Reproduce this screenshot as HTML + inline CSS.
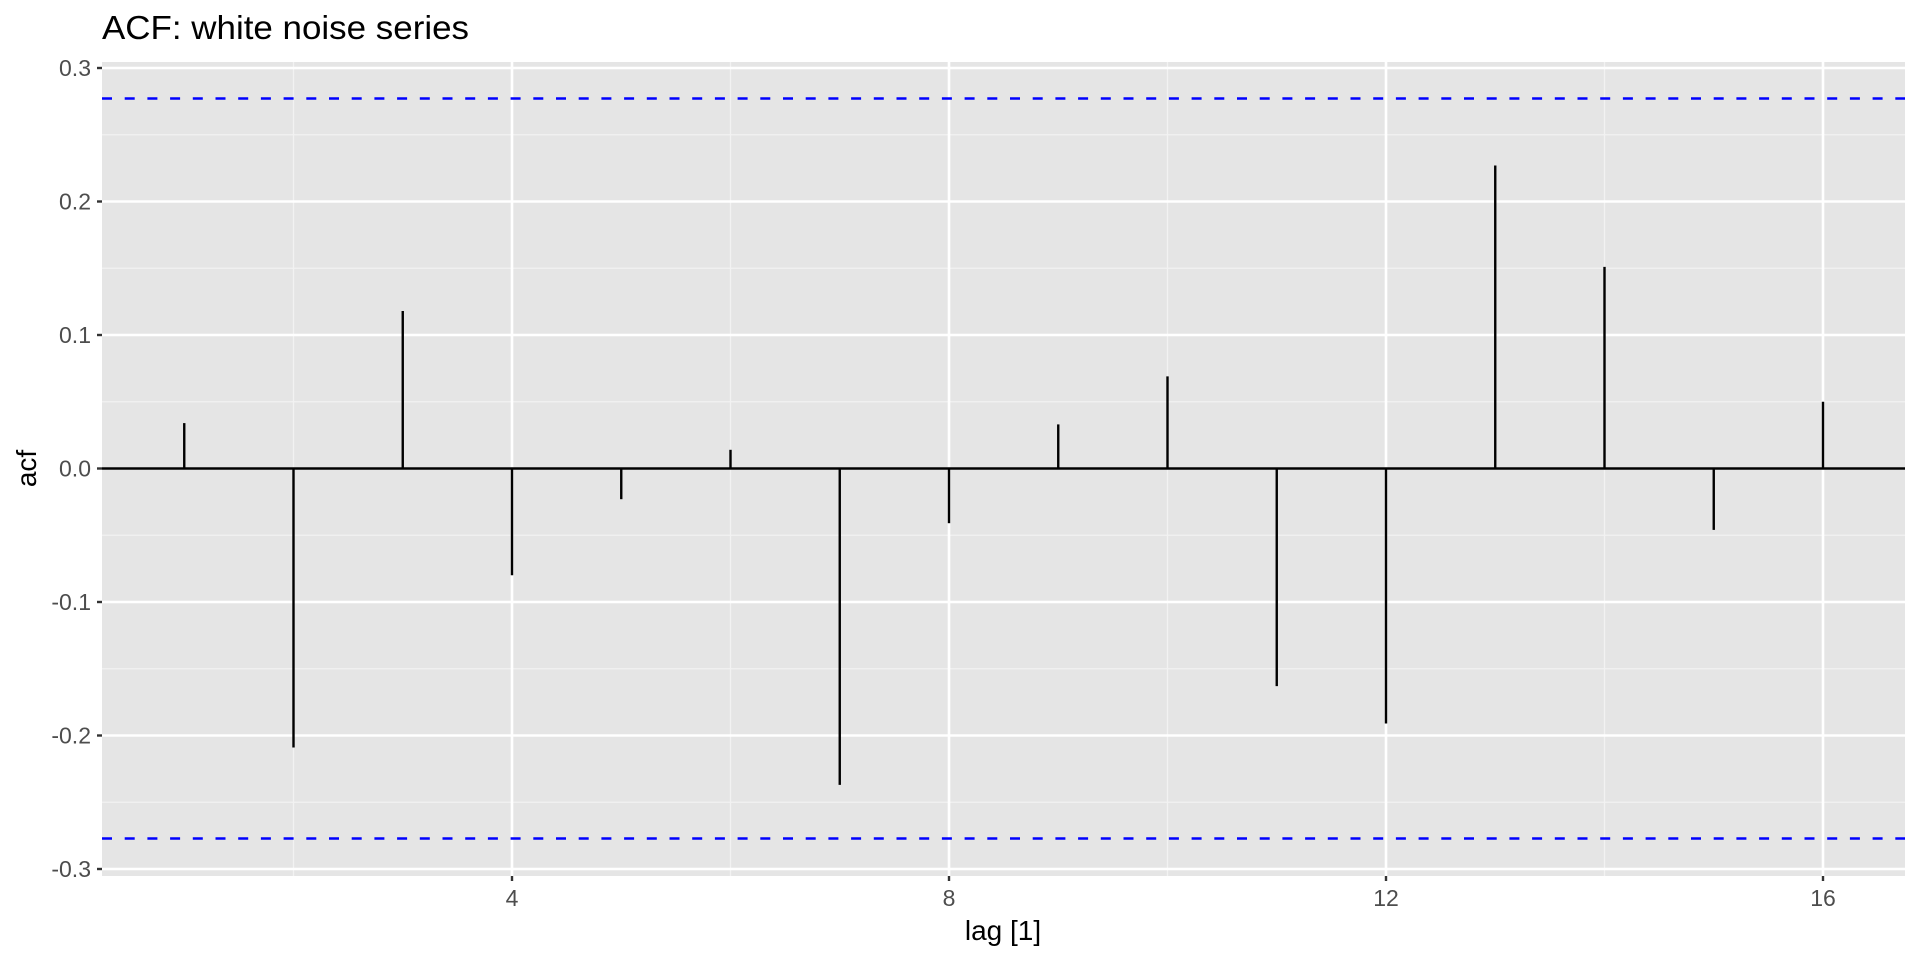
<!DOCTYPE html>
<html><head><meta charset="utf-8"><style>html,body{margin:0;padding:0;background:#fff}svg{display:block}</style></head>
<body>
<svg width="1920" height="960" xmlns="http://www.w3.org/2000/svg" font-family="Liberation Sans, sans-serif">
<rect x="102" y="62" width="1803" height="814" fill="#e5e5e5"/>
<g stroke="#f2f2f2" stroke-width="1.3">
<line x1="102" x2="1905" y1="134.75" y2="134.75"/><line x1="102" x2="1905" y1="268.25" y2="268.25"/><line x1="102" x2="1905" y1="401.75" y2="401.75"/><line x1="102" x2="1905" y1="535.25" y2="535.25"/><line x1="102" x2="1905" y1="668.75" y2="668.75"/><line x1="102" x2="1905" y1="802.25" y2="802.25"/>
<line y1="62" y2="876" x1="293.5" x2="293.5"/><line y1="62" y2="876" x1="730.5" x2="730.5"/><line y1="62" y2="876" x1="1167.5" x2="1167.5"/><line y1="62" y2="876" x1="1604.5" x2="1604.5"/>
</g>
<g stroke="#fff" stroke-width="2.6">
<line x1="102" x2="1905" y1="68" y2="68"/><line x1="102" x2="1905" y1="201.5" y2="201.5"/><line x1="102" x2="1905" y1="335" y2="335"/><line x1="102" x2="1905" y1="468.5" y2="468.5"/><line x1="102" x2="1905" y1="602" y2="602"/><line x1="102" x2="1905" y1="735.5" y2="735.5"/><line x1="102" x2="1905" y1="869" y2="869"/>
<line y1="62" y2="876" x1="512" x2="512"/><line y1="62" y2="876" x1="949" x2="949"/><line y1="62" y2="876" x1="1386" x2="1386"/><line y1="62" y2="876" x1="1823" x2="1823"/>
</g>
<g stroke="#000" stroke-width="2.4">
<line x1="184.25" x2="184.25" y1="468.5" y2="423.1"/>
<line x1="293.5" x2="293.5" y1="468.5" y2="747.5"/>
<line x1="402.75" x2="402.75" y1="468.5" y2="311"/>
<line x1="512" x2="512" y1="468.5" y2="575.3"/>
<line x1="621.25" x2="621.25" y1="468.5" y2="499.2"/>
<line x1="730.5" x2="730.5" y1="468.5" y2="449.8"/>
<line x1="839.75" x2="839.75" y1="468.5" y2="784.9"/>
<line x1="949" x2="949" y1="468.5" y2="523.2"/>
<line x1="1058.25" x2="1058.25" y1="468.5" y2="424.4"/>
<line x1="1167.5" x2="1167.5" y1="468.5" y2="376.4"/>
<line x1="1276.75" x2="1276.75" y1="468.5" y2="686.1"/>
<line x1="1386" x2="1386" y1="468.5" y2="723.5"/>
<line x1="1495.25" x2="1495.25" y1="468.5" y2="165.5"/>
<line x1="1604.5" x2="1604.5" y1="468.5" y2="266.9"/>
<line x1="1713.75" x2="1713.75" y1="468.5" y2="529.9"/>
<line x1="1823" x2="1823" y1="468.5" y2="401.8"/>
<line x1="102" x2="1905" y1="468.5" y2="468.5"/>
</g>
<g stroke="#0000ff" stroke-width="2.6" stroke-dasharray="10,12.7">
<line x1="102" x2="1905" y1="98.5" y2="98.5"/><line x1="102" x2="1905" y1="838.5" y2="838.5"/>
</g>
<g stroke="#333" stroke-width="2.4">
<line x1="97" x2="102" y1="68" y2="68"/><line x1="97" x2="102" y1="201.5" y2="201.5"/><line x1="97" x2="102" y1="335" y2="335"/><line x1="97" x2="102" y1="468.5" y2="468.5"/><line x1="97" x2="102" y1="602" y2="602"/><line x1="97" x2="102" y1="735.5" y2="735.5"/><line x1="97" x2="102" y1="869" y2="869"/>
<line y1="876" y2="881" x1="512" x2="512"/><line y1="876" y2="881" x1="949" x2="949"/><line y1="876" y2="881" x1="1386" x2="1386"/><line y1="876" y2="881" x1="1823" x2="1823"/>
</g>
<g fill="#4d4d4d" font-size="23" text-anchor="end">
<text x="91" y="76">0.3</text><text x="91" y="209.5">0.2</text><text x="91" y="343">0.1</text><text x="91" y="476.5">0.0</text><text x="91" y="610">-0.1</text><text x="91" y="743.5">-0.2</text><text x="91" y="877">-0.3</text>
</g>
<g fill="#4d4d4d" font-size="23" text-anchor="middle">
<text x="512" y="906">4</text><text x="949" y="906">8</text><text x="1386" y="906">12</text><text x="1823" y="906">16</text>
</g>
<text x="1003" y="940" font-size="28" text-anchor="middle" fill="#000">lag [1]</text>
<text transform="translate(36,468.5) rotate(-90)" font-size="28" text-anchor="middle" fill="#000">acf</text>
<text x="102" y="39" font-size="33" fill="#000" textLength="367" lengthAdjust="spacingAndGlyphs">ACF: white noise series</text>
</svg>
</body></html>
